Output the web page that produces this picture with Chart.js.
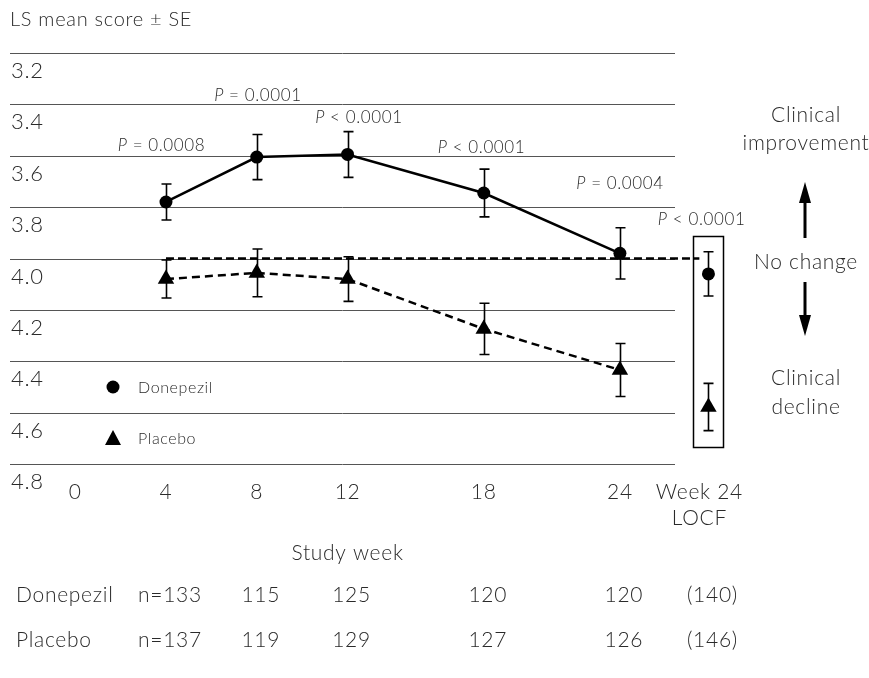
<!DOCTYPE html>
<html><head><meta charset="utf-8">
<script src="https://cdn.jsdelivr.net/npm/chart.js@4.4.1/dist/chart.umd.min.js"></script>
<style>html,body{margin:0;padding:0;background:#fff;}canvas{display:block;}</style>
</head><body>
<canvas id="c" width="869" height="678"></canvas>
<script>
// ---- data ----
const weeks = [4, 8, 12, 18, 24, 27.9];          // last slot = "Week 24 LOCF"
const xTickValues = [0, 4, 8, 12, 18, 24, 27.5];
const xTickLabels = ['0', '4', '8', '12', '18', '24', ['Week 24', 'LOCF']];
const yTickValues = [3.2, 3.4, 3.6, 3.8, 4.0, 4.2, 4.4, 4.6, 4.8];
const donepezilMean = [3.78, 3.605, 3.595, 3.745, 3.98, 4.06];
const donepezilSE   = [0.07, 0.088, 0.089, 0.093, 0.10, 0.086];
const placeboMean   = [4.08, 4.056, 4.08, 4.274, 4.434, 4.578];
const placeboSE     = [0.074, 0.093, 0.087, 0.10, 0.103, 0.092];
const baselineScore = 4.0;
const pSymbols = ['=', '=', '<', '<', '=', '<'];
const pNumbers = ['0.0008', '0.0001', '0.0001', '0.0001', '0.0004', '0.0001'];
const nDonepezil = ['n=133', '115', '125', '120', '120', '(140)'];
const nPlacebo   = ['n=137', '119', '129', '127', '126', '(146)'];

// ---- annotation placement (in data units) ----
const pLabelWeek  = [3.8, 8.05, 12.5, 17.9, 24.0, 27.6];
const pLabelScore = [3.562, 3.364, 3.453, 3.566, 3.71, 3.85];
const baselineSpan = [4, 27.5];

const TXT = '#2a2a2a';
const FAM = 'Lato, "Open Sans", sans-serif';

function pts(means, idx) { return idx.map(i => ({x: weeks[i], y: means[i]})); }
const lineIdx = [0, 1, 2, 3, 4];
const locfIdx = [5];

const decor = {
  id: 'decor',
  beforeDraw(chart) {
    chart.ctx.letterSpacing = '0.7px';
  },
  beforeDatasetsDraw(chart) {
    const {ctx, scales: {x, y}} = chart;
    ctx.save();
    // gridlines
    ctx.strokeStyle = '#555'; ctx.lineWidth = 1;
    yTickValues.forEach(v => {
      const py = Math.round(y.getPixelForValue(v)) + 0.5;
      ctx.beginPath(); ctx.moveTo(10, py); ctx.lineTo(675, py); ctx.stroke();
    });
    // error bars
    ctx.strokeStyle = '#000'; ctx.lineWidth = 1.6;
    [[donepezilMean, donepezilSE], [placeboMean, placeboSE]].forEach(([m, s]) => {
      weeks.forEach((w, i) => {
        const px = Math.round(x.getPixelForValue(w)) + 0.5;
        const t = y.getPixelForValue(m[i] - s[i]);
        const b = y.getPixelForValue(m[i] + s[i]);
        ctx.beginPath();
        ctx.moveTo(px, t); ctx.lineTo(px, b);
        ctx.moveTo(px - 5, t); ctx.lineTo(px + 5, t);
        ctx.moveTo(px - 5, b); ctx.lineTo(px + 5, b);
        ctx.stroke();
      });
    });
    // LOCF box
    const li = weeks.length - 1;
    const bx = x.getPixelForValue(weeks[li]);
    const top = y.getPixelForValue(donepezilMean[li] - donepezilSE[li]) - 16;
    const bot = y.getPixelForValue(placeboMean[li] + placeboSE[li]) + 16;
    ctx.lineWidth = 1.5;
    ctx.strokeRect(Math.round(bx - 15) + 0.5, Math.round(top) + 0.5, 30, Math.round(bot - top));
    ctx.restore();
  },
  afterDraw(chart) {
    const {ctx, scales: {x, y}} = chart;
    ctx.save();
    ctx.letterSpacing = '0.7px';
    ctx.fillStyle = TXT;
    ctx.textBaseline = 'middle';
    // title
    ctx.font = '300 20px ' + FAM;
    ctx.textAlign = 'left';
    ctx.fillText('LS mean score \u00B1 SE', 10, 20);
    // P labels
    ctx.letterSpacing = '0.6px';
    const fs = 17;
    weeks.forEach((w, i) => {
      const cx = x.getPixelForValue(pLabelWeek[i]);
      const cy = y.getPixelForValue(pLabelScore[i]);
      ctx.font = 'italic 300 ' + fs + 'px ' + FAM;
      const wP = ctx.measureText('P').width;
      ctx.font = '300 ' + fs + 'px ' + FAM;
      const rest = ' ' + pSymbols[i] + ' ' + pNumbers[i];
      const wR = ctx.measureText(rest).width;
      let sx = cx - (wP + wR) / 2;
      ctx.textAlign = 'left';
      ctx.font = 'italic 300 ' + fs + 'px ' + FAM;
      ctx.fillText('P', sx, cy);
      ctx.font = '300 ' + fs + 'px ' + FAM;
      ctx.fillText(rest, sx + wP, cy);
    });
    // legend
    ctx.fillStyle = '#000';
    ctx.beginPath(); ctx.arc(113, 387, 6.5, 0, Math.PI * 2); ctx.fill();
    ctx.beginPath(); ctx.moveTo(113, 430); ctx.lineTo(121, 445); ctx.lineTo(105, 445); ctx.closePath(); ctx.fill();
    ctx.fillStyle = TXT;
    ctx.font = '300 16px ' + FAM;
    ctx.textAlign = 'left';
    ctx.fillText('Donepezil', 138, 388);
    ctx.fillText('Placebo', 138, 439);
    // right annotations
    ctx.letterSpacing = '0.7px';
    ctx.font = '300 21px ' + FAM;
    ctx.textAlign = 'center';
    ctx.fillText('Clinical', 806, 115);
    ctx.fillText('improvement', 806, 143);
    ctx.fillText('No change', 806, 262);
    ctx.fillText('Clinical', 806, 378);
    ctx.fillText('decline', 806, 407);
    ctx.strokeStyle = '#000'; ctx.fillStyle = '#000'; ctx.lineWidth = 3;
    ctx.beginPath(); ctx.moveTo(805, 238); ctx.lineTo(805, 195); ctx.stroke();
    ctx.beginPath(); ctx.moveTo(805, 182); ctx.lineTo(811, 203); ctx.lineTo(799, 203); ctx.closePath(); ctx.fill();
    ctx.beginPath(); ctx.moveTo(805, 282); ctx.lineTo(805, 324); ctx.stroke();
    ctx.beginPath(); ctx.moveTo(805, 336); ctx.lineTo(811, 315); ctx.lineTo(799, 315); ctx.closePath(); ctx.fill();
    // x title
    ctx.fillStyle = TXT;
    ctx.font = '300 21px ' + FAM;
    ctx.textAlign = 'center';
    const midX = (x.getPixelForValue(xTickValues[0]) + x.getPixelForValue(weeks[4])) / 2;
    ctx.fillText('Study week', midX, 553);
    // n table
    ctx.textAlign = 'left';
    ctx.fillText('Donepezil', 16, 595);
    ctx.fillText('Placebo', 16, 640);
    ctx.textAlign = 'center';
    weeks.forEach((w, i) => {
      const px = x.getPixelForValue(w) + 4;
      ctx.fillText(nDonepezil[i], px, 595);
      ctx.fillText(nPlacebo[i], px, 640);
    });
    ctx.restore();
  }
};

new Chart(document.getElementById('c'), {
  type: 'scatter',
  data: {
    datasets: [
      { label: 'Donepezil', data: pts(donepezilMean, lineIdx), showLine: true,
        borderColor: '#000', borderWidth: 2.5, pointStyle: 'circle', pointRadius: 6.5,
        pointBackgroundColor: '#000', pointBorderWidth: 0 },
      { label: 'Donepezil LOCF', data: pts(donepezilMean, locfIdx), showLine: false,
        pointStyle: 'circle', pointRadius: 6.5, pointBackgroundColor: '#000', pointBorderWidth: 0 },
      { label: 'Placebo', data: pts(placeboMean, lineIdx), showLine: true,
        borderColor: '#000', borderWidth: 2.5, borderDash: [8, 5], pointStyle: 'triangle', pointRadius: 9.5,
        pointBackgroundColor: '#000', pointBorderWidth: 0 },
      { label: 'Placebo LOCF', data: pts(placeboMean, locfIdx), showLine: false,
        pointStyle: 'triangle', pointRadius: 9.5, pointBackgroundColor: '#000', pointBorderWidth: 0 },
      { label: 'No change', data: baselineSpan.map(w => ({x: w, y: baselineScore})), showLine: true,
        borderColor: '#000', borderWidth: 2.5, borderDash: [8, 4], pointRadius: 0 }
    ]
  },
  options: {
    responsive: false,
    animation: false,
    events: [],
    layout: { padding: { top: 53, left: 10, right: 139, bottom: 0 } },
    plugins: { legend: { display: false }, tooltip: { enabled: false }, title: { display: false } },
    scales: {
      x: {
        type: 'linear', min: -2.872, max: 28.85,
        afterBuildTicks: s => { s.ticks = xTickValues.map(v => ({value: v})); },
        afterFit: s => { s.height = 214; },
        grid: { display: false, drawTicks: false }, border: { display: false },
        ticks: { color: TXT, padding: 15, font: { family: FAM, size: 21, weight: '300', lineHeight: 1.25 },
          callback: v => xTickLabels[xTickValues.indexOf(v)] }
      },
      y: {
        type: 'linear', reverse: true, min: 3.2, max: 4.8,
        afterBuildTicks: s => { s.ticks = yTickValues.map(v => ({value: v})); },
        afterFit: s => { s.width = 0; },
        grid: { display: false, drawTicks: false }, border: { display: false },
        ticks: { mirror: true, padding: 1, labelOffset: 18, color: TXT,
          font: { family: FAM, size: 22, weight: '300' },
          callback: v => v.toFixed(1) }
      }
    }
  },
  plugins: [decor]
});
</script>
</body></html>
